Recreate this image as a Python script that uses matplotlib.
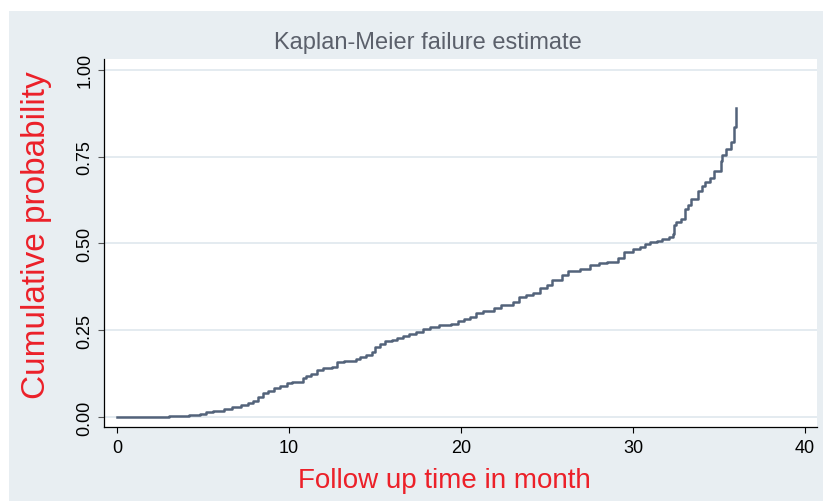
import matplotlib
matplotlib.use("Agg")
import matplotlib.pyplot as plt
from matplotlib.patches import Rectangle

BG = "#E8EEF2"
GRID = "#E2E9EF"
LINE = "#53637A"
RED = "#EC2029"
TITLE = "#5B606B"

# Kaplan-Meier failure estimate, step values
times = [0.0, 3.0, 3.6, 4.2, 4.8, 5.2, 5.6, 6.2, 6.7, 7.2, 7.6, 7.9,
         8.2, 8.5, 8.8, 9.1, 9.5, 9.9, 10.2, 10.8, 11.0, 11.3, 11.6,
         12.0, 12.5, 12.8, 13.2, 13.9, 14.1, 14.5, 14.8, 15.0, 15.3,
         15.6, 16.0, 16.3, 16.6, 17.0, 17.4, 17.8, 18.2, 18.7, 19.4,
         19.8, 20.2, 20.5, 20.9, 21.3, 21.9, 22.3, 23.0, 23.4, 23.8,
         24.2, 24.6, 25.0, 25.3, 25.9, 26.2, 26.9, 27.5, 28.0, 28.5,
         29.1, 29.5, 30.0, 30.4, 30.7, 31.0, 31.4, 31.7, 32.1, 32.3,
         32.4, 32.5, 32.8, 33.0, 33.2, 33.4, 33.8, 34.0, 34.2, 34.5,
         34.7, 35.1, 35.2, 35.4, 35.7, 35.9, 36.0]
failure = [0.0, 0.002, 0.004, 0.006, 0.009, 0.014, 0.018, 0.024, 0.028,
           0.034, 0.040, 0.047, 0.056, 0.068, 0.076, 0.082, 0.088, 0.097,
           0.101, 0.112, 0.119, 0.124, 0.135, 0.140, 0.145, 0.158, 0.162,
           0.168, 0.173, 0.178, 0.188, 0.200, 0.211, 0.218, 0.222, 0.226,
           0.233, 0.238, 0.246, 0.252, 0.259, 0.264, 0.268, 0.275, 0.281,
           0.287, 0.298, 0.305, 0.315, 0.322, 0.330, 0.345, 0.350, 0.358,
           0.370, 0.380, 0.395, 0.410, 0.420, 0.426, 0.437, 0.443, 0.447,
           0.458, 0.475, 0.483, 0.490, 0.497, 0.503, 0.508, 0.512, 0.518,
           0.527, 0.552, 0.561, 0.570, 0.598, 0.610, 0.628, 0.651, 0.665,
           0.676, 0.688, 0.709, 0.738, 0.754, 0.772, 0.791, 0.835, 0.890]

xticks = [0, 10, 20, 30, 40]
yticks = [0.0, 0.25, 0.5, 0.75, 1.0]
ytick_labels = ["0.00", "0.25", "0.50", "0.75", "1.00"]

plt.rcParams["font.family"] = ["Liberation Sans", "DejaVu Sans"]

W, H = 825, 502
fig = plt.figure(figsize=(W / 100, H / 100), dpi=100, facecolor="white")
# graph region (behind the axes)
fig.add_artist(Rectangle((9 / W, 0), (823 - 9) / W, 1 - 12 / H,
                         transform=fig.transFigure, facecolor=BG,
                         edgecolor="none", zorder=-10))

ax = fig.add_axes([104 / W, 1 - 428 / H, (817 - 104) / W, (428 - 60) / H])
ax.set_facecolor("white")

for y in yticks:
    ax.axhline(y, color=GRID, linewidth=1.3, zorder=1)

ax.step(times, failure, where="post", color=LINE, linewidth=1.8, zorder=3)

ax.set_xlim(-0.76, 40.7)
ax.set_ylim(-0.029, 1.031)

ax.set_xticks(xticks)
ax.set_yticks(yticks)
ax.set_yticklabels(ytick_labels, rotation=90, va="center")
ax.tick_params(axis="both", direction="out", length=4, width=0.8,
               labelsize=13, colors="black")
ax.tick_params(axis="x", pad=4.5)
ax.tick_params(axis="y", pad=3.5, color="#555555")

for side in ("top", "right"):
    ax.spines[side].set_visible(False)
for side in ("left", "bottom"):
    ax.spines[side].set_color("black")
    ax.spines[side].set_linewidth(0.9)

fig.text(427.5 / W, 1 - 43 / H, "Kaplan-Meier failure estimate",
         ha="center", va="center", fontsize=17, color=TITLE)
fig.text(444 / W, 1 - 481 / H, "Follow up time in month",
         ha="center", va="center", fontsize=20, color=RED)
fig.text(37 / W, 1 - 235 / H, "Cumulative probability", rotation=90,
         ha="center", va="center", fontsize=24, color=RED)

fig.savefig("out.png", dpi=100, facecolor="white")
